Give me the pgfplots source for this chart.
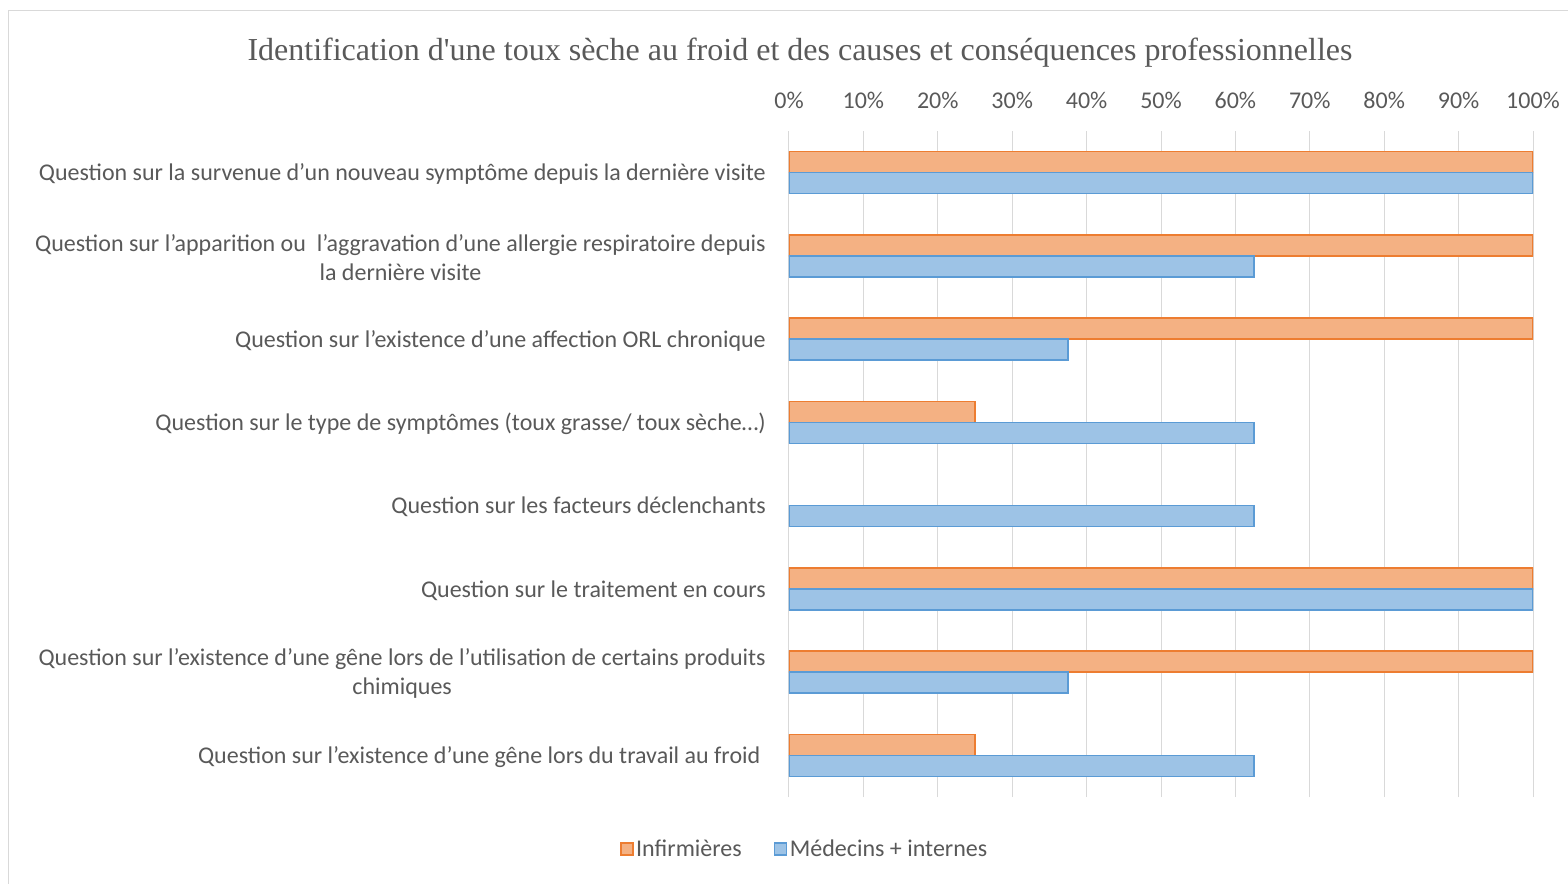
\documentclass[border=0pt]{standalone}
\usepackage{fontspec}
\setmainfont{Carlito}
\newfontfamily\titlefont{Liberation Serif}
\usepackage{pgfplots}
\pgfplotsset{compat=1.18}
\definecolor{txt}{HTML}{595959}
\definecolor{orfill}{HTML}{F4B183}
\definecolor{oredge}{HTML}{ED7D31}
\definecolor{blfill}{HTML}{9DC3E6}
\definecolor{bledge}{HTML}{5B9BD5}
\definecolor{gridc}{HTML}{D9D9D9}
\begin{document}
\begin{tikzpicture}
% 1 px of the reference = 0.75pt
\useasboundingbox (0,0) rectangle (1176pt,-662.25pt);
\draw[color=gridc, line width=0.75pt] (6pt,-7.5pt) rectangle (1190pt,-680pt);
\node[font=\titlefont\fontsize{24}{28}\selectfont, text=txt, anchor=base, inner sep=0pt]
  at (600pt,-45pt) {Identification d'une toux sèche au froid et des causes et conséquences professionnelles};
\begin{axis}[
    at={(591.75pt,-98.25pt)}, anchor=north west,
    scale only axis, width=558pt, height=499.5pt,
    xmin=0, xmax=100, ymin=-0.5, ymax=7.5,
    xbar, bar width=15.75pt,
    axis line style={draw=none},
    major tick length=0pt,
    xmajorgrids, grid style={color=gridc, line width=0.75pt},
    xtick={0,10,...,100},
    xticklabels={0\%,10\%,20\%,30\%,40\%,50\%,60\%,70\%,80\%,90\%,100\%},
    xticklabel pos=upper,
    xticklabel style={anchor=base, yshift=16.9pt},
    ytick={0,...,7},
    yticklabels={
      {Question sur l’existence d’une gêne lors du travail au froid\ },
      {Question sur l’existence d’une gêne lors de l’utilisation de certains produits\\chimiques},
      {Question sur le traitement en cours},
      {Question sur les facteurs déclenchants},
      {Question sur le type de symptômes (toux grasse/ toux sèche…)},
      {Question sur l’existence d’une affection ORL chronique},
      {Question sur l’apparition ou \ l’aggravation d’une allergie respiratoire depuis\\la dernière visite},
      {Question sur la survenue d’un nouveau symptôme depuis la dernière visite}},
    yticklabel style={align=center, anchor=east, inner sep=0pt, xshift=-17.25pt, yshift=-1.2pt},
    tick label style={font=\fontsize{18}{21.75}\selectfont, text=txt},
    legend style={draw=none, at={(0.0215,-0.078)}, anchor=center,
      font=\fontsize{18}{21}\selectfont, text=txt, legend columns=2,
      /tikz/every even column/.style={column sep=22pt}},
    legend image code/.code={\draw[#1, line width=1.1pt] (0pt,-4.5pt) rectangle (9pt,4.5pt);},
]
\addplot[fill=orfill, draw=oredge, line width=1.1pt, bar shift=7.875pt]
coordinates {
    (25,0)
    (100,1)
    (100,2)
    (25,4)
    (100,5)
    (100,6)
    (100,7)
};
\addplot[fill=blfill, draw=bledge, line width=1.1pt, bar shift=-7.875pt]
coordinates {
    (62.5,0)
    (37.5,1)
    (100,2)
    (62.5,3)
    (62.5,4)
    (37.5,5)
    (62.5,6)
    (100,7)
};
\legend{Infirmières, Médecins + internes}
\end{axis}
\end{tikzpicture}
\end{document}
